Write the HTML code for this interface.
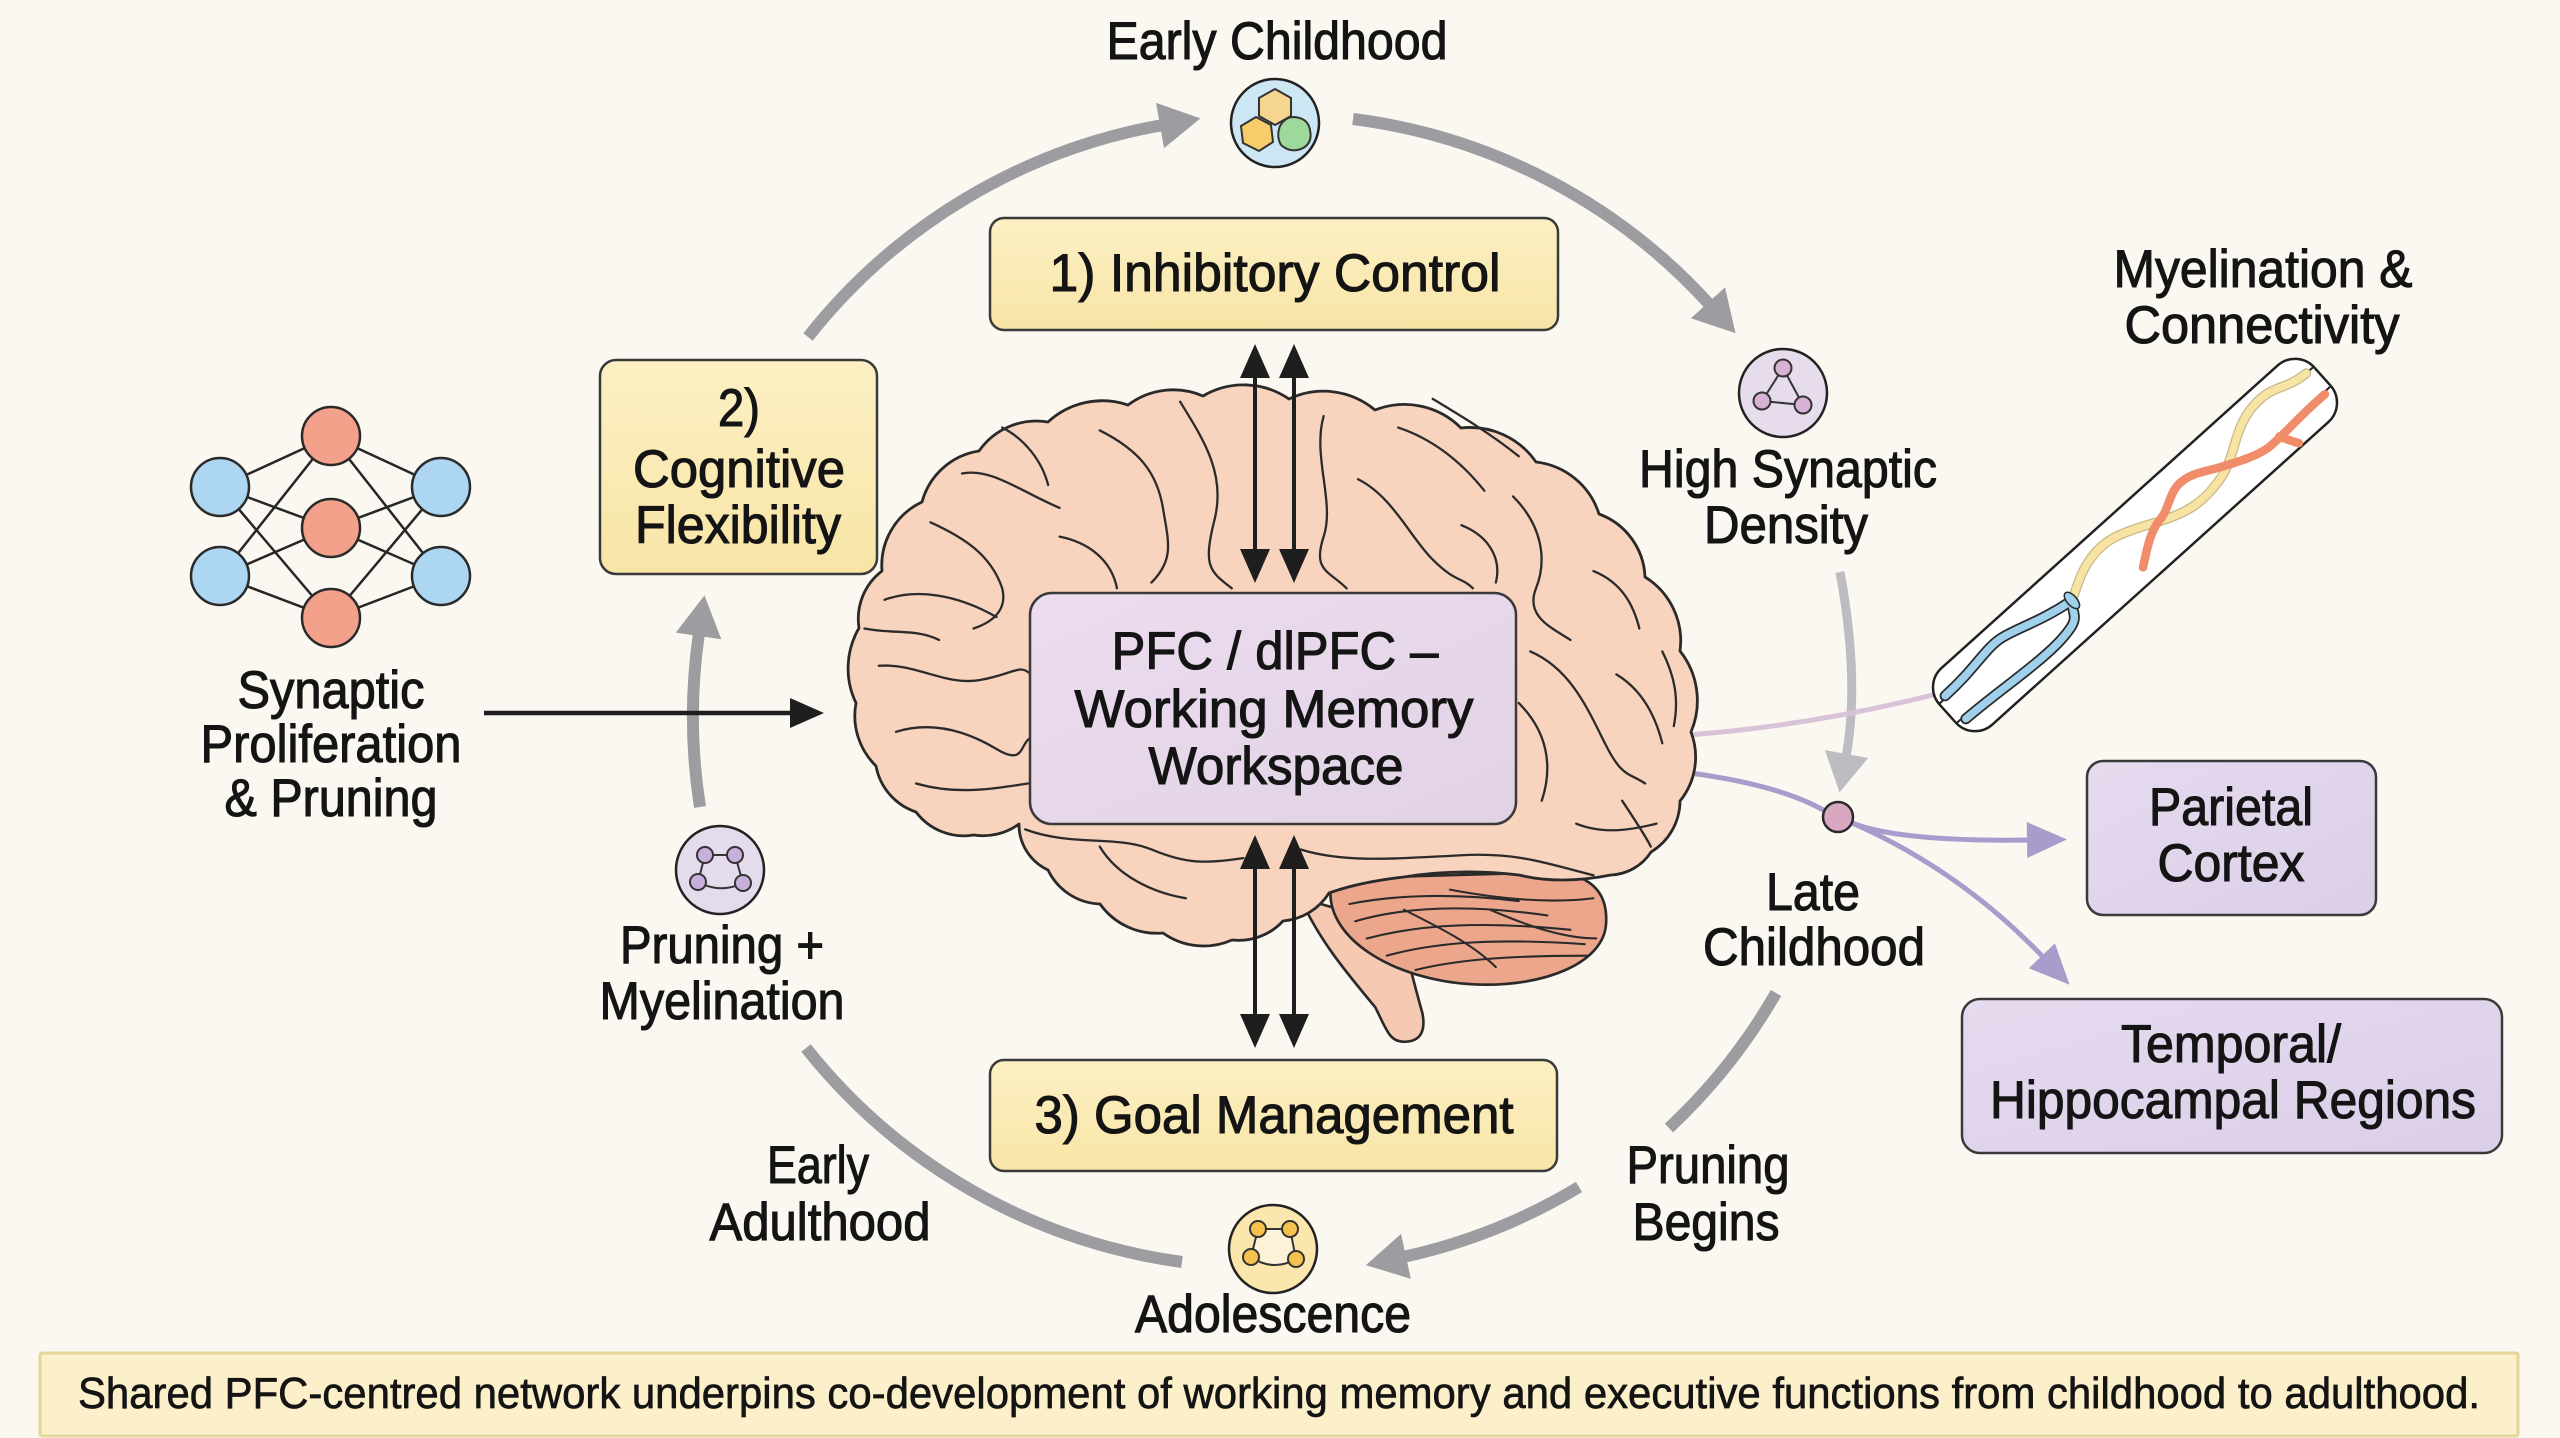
<!DOCTYPE html>
<html>
<head>
<meta charset="utf-8">
<style>
html,body{margin:0;padding:0;background:#faf8f0;}
svg{display:block;}
</style>
</head>
<body>
<svg width="2560" height="1438" viewBox="0 0 2560 1438" xmlns="http://www.w3.org/2000/svg">
<defs>
  <marker id="hg" markerUnits="userSpaceOnUse" markerWidth="50" markerHeight="60" viewBox="-5 -30 50 60" refX="0" refY="0" orient="auto">
    <path d="M-3,-23 L38,0 L-3,23 Z" fill="#9c9ca1"/>
  </marker>
  <marker id="hl" markerUnits="userSpaceOnUse" markerWidth="50" markerHeight="60" viewBox="-5 -30 50 60" refX="0" refY="0" orient="auto">
    <path d="M-3,-22 L36,0 L-3,22 Z" fill="#bdbdc1"/>
  </marker>
  <marker id="hp" markerUnits="userSpaceOnUse" markerWidth="50" markerHeight="50" viewBox="-5 -25 50 50" refX="0" refY="0" orient="auto">
    <path d="M-3,-18 L37,0 L-3,18 Z" fill="#a99bcb"/>
  </marker>
  <marker id="hb" markerUnits="userSpaceOnUse" markerWidth="40" markerHeight="40" viewBox="-5 -20 40 40" refX="0" refY="0" orient="auto-start-reverse">
    <path d="M-2,-15 L32,0 L-2,15 Z" fill="#1e1e1e"/>
  </marker>
  <linearGradient id="gy" x1="0" y1="0" x2="0" y2="1">
    <stop offset="0" stop-color="#fcf0c4"/>
    <stop offset="1" stop-color="#f8e5a6"/>
  </linearGradient>
  <linearGradient id="gp" x1="0" y1="0" x2="1" y2="1">
    <stop offset="0" stop-color="#ecdcee"/>
    <stop offset="1" stop-color="#e2d2e6"/>
  </linearGradient>
  <linearGradient id="gl" x1="0" y1="0" x2="1" y2="1">
    <stop offset="0" stop-color="#e6daef"/>
    <stop offset="1" stop-color="#dbcfe8"/>
  </linearGradient>
</defs>

<rect x="0" y="0" width="2560" height="1438" fill="#faf8f0"/>

<!-- gray cycle arcs -->
<g fill="none" stroke="#9c9ca1" stroke-width="12">
  <path d="M 808 337 A 580 580 0 0 1 1163 125" marker-end="url(#hg)"/>
  <path d="M 1353 119 A 580 580 0 0 1 1710 305" marker-end="url(#hg)"/>
  <path d="M 1776 993 A 580 580 0 0 1 1669 1128"/>
  <path d="M 1579 1187 A 580 580 0 0 1 1403 1257" marker-end="url(#hg)"/>
  <path d="M 1182 1262 A 580 580 0 0 1 806 1048"/>
  <path d="M 700 807 A 580 580 0 0 1 699 633" marker-end="url(#hg)"/>
</g>
<path d="M 1840 572 Q 1860 680 1846 757" fill="none" stroke="#bdbdc1" stroke-width="9" marker-end="url(#hl)"/>

<!-- pink & purple connectors -->
<path d="M 1688 735 Q 1820 725 1952 690" fill="none" stroke="#d9c3d8" stroke-width="5"/>
<path d="M 1690 773 Q 1780 785 1825 811" fill="none" stroke="#a99bcb" stroke-width="5"/>
<path d="M 1852 823 Q 1900 842 2030 840" fill="none" stroke="#a99bcb" stroke-width="5" marker-end="url(#hp)"/>
<path d="M 1852 823 Q 1960 870 2044 958" fill="none" stroke="#a99bcb" stroke-width="5" marker-end="url(#hp)"/>
<circle cx="1838" cy="817" r="15" fill="#d9a7c0" stroke="#2a2a2a" stroke-width="2.5"/>

<!-- neural network icon -->
<g stroke="#262626" stroke-width="2.5">
  <line x1="220" y1="487" x2="331" y2="436"/><line x1="220" y1="487" x2="331" y2="528"/><line x1="220" y1="487" x2="331" y2="618"/>
  <line x1="220" y1="576" x2="331" y2="436"/><line x1="220" y1="576" x2="331" y2="528"/><line x1="220" y1="576" x2="331" y2="618"/>
  <line x1="441" y1="487" x2="331" y2="436"/><line x1="441" y1="487" x2="331" y2="528"/><line x1="441" y1="487" x2="331" y2="618"/>
  <line x1="441" y1="576" x2="331" y2="436"/><line x1="441" y1="576" x2="331" y2="528"/><line x1="441" y1="576" x2="331" y2="618"/>
</g>
<g stroke="#2a2a2a" stroke-width="2.5">
  <circle cx="220" cy="487" r="29" fill="#acd6f1"/>
  <circle cx="220" cy="576" r="29" fill="#acd6f1"/>
  <circle cx="441" cy="487" r="29" fill="#acd6f1"/>
  <circle cx="441" cy="576" r="29" fill="#acd6f1"/>
  <circle cx="331" cy="436" r="29" fill="#f3a18b"/>
  <circle cx="331" cy="528" r="29" fill="#f3a18b"/>
  <circle cx="331" cy="618" r="29" fill="#f3a18b"/>
</g>

<!-- black arrow synaptic -> brain -->
<line x1="484" y1="713" x2="792" y2="713" stroke="#1e1e1e" stroke-width="4.5" marker-end="url(#hb)"/>

<!-- BRAIN -->
<g transform="translate(830,330) scale(0.5740)" stroke="#2a2a2a" stroke-width="4.6" stroke-linejoin="round">
  <path d="M 820 990 C 850 1060, 900 1120, 950 1180 C 970 1220, 975 1240, 1000 1240 C 1030 1240, 1038 1220, 1032 1190 C 1018 1140, 1005 1090, 995 1040 Z" fill="#f6c9b2"/>
  <path d="M 872 975 C 866 1060, 980 1132, 1120 1140 C 1250 1146, 1348 1100, 1352 1035 C 1356 975, 1320 945, 1250 945 L 900 955 Z" fill="#eba68c"/>
  <g fill="none" stroke-width="3.6" stroke-linecap="round">
    <path d="M 905 1000 C 980 985, 1080 980, 1200 995"/>
    <path d="M 915 1030 C 1000 1005, 1110 1000, 1250 1020"/>
    <path d="M 935 1060 C 1030 1035, 1140 1030, 1290 1045"/>
    <path d="M 970 1090 C 1060 1065, 1170 1060, 1315 1070"/>
    <path d="M 1020 1115 C 1100 1095, 1200 1090, 1320 1090"/>
    <path d="M 1080 975 C 1160 990, 1250 1000, 1330 990"/>
    <path d="M 1150 1010 C 1220 1040, 1280 1060, 1335 1060"/>
    <path d="M 1000 1010 C 1060 1040, 1120 1070, 1160 1110"/>
  </g>
</g>
<path d="M 1019 824 A 60 60 0 0 1 974 835 A 60 60 0 0 1 916 812 A 60 60 0 0 1 876 766 A 70 70 0 0 1 856 703 A 80 80 0 0 1 859 628 A 60 60 0 0 1 882 571 A 70 70 0 0 1 922 502 A 70 70 0 0 1 979 451 A 70 70 0 0 1 1048 422 A 80 80 0 0 1 1128 405 A 75 75 0 0 1 1203 396 A 80 80 0 0 1 1289 399 A 80 80 0 0 1 1375 410 A 80 80 0 0 1 1461 428 A 80 80 0 0 1 1536 462 A 75 75 0 0 1 1599 514 A 70 70 0 0 1 1645 577 A 75 75 0 0 1 1680 651 A 80 80 0 0 1 1691 732 A 70 70 0 0 1 1680 801 A 60 60 0 0 1 1651 852 A 50 50 0 0 1 1611 875 Q 1560 885 1519 875 Q 1460 868 1404 877 Q 1360 882 1329 893 A 60 60 0 0 1 1283 921 A 60 60 0 0 1 1232 940 A 70 70 0 0 1 1163 933 A 70 70 0 0 1 1100 904 A 60 60 0 0 1 1048 870 A 50 50 0 0 1 1019 824 Z" fill="#f8d3bd" stroke="#2a2a2a" stroke-width="2.8" stroke-linejoin="round"/>
<g transform="translate(830,330) scale(0.5740)" fill="none" stroke="#2b2b2b" stroke-width="4" stroke-linecap="round">
  <path d="M 230 250 C 280 240, 330 280, 400 310"/>
  <path d="M 175 335 C 230 360, 280 390, 300 450 C 310 490, 280 510, 250 520"/>
  <path d="M 95 470 C 150 450, 220 460, 290 500"/>
  <path d="M 85 585 C 150 580, 200 620, 260 610 S 330 580, 350 600"/>
  <path d="M 115 700 C 180 680, 240 700, 290 730 S 330 720, 350 710"/>
  <path d="M 150 790 C 220 810, 280 800, 345 790"/>
  <path d="M 470 175 C 540 210, 570 250, 580 310 S 600 400, 560 440"/>
  <path d="M 610 125 C 650 190, 690 250, 670 330 S 660 420, 700 450"/>
  <path d="M 400 360 C 450 370, 490 400, 500 450"/>
  <path d="M 860 150 C 840 220, 880 300, 860 360 S 870 420, 900 450"/>
  <path d="M 920 260 C 980 290, 1010 360, 1050 400 S 1100 430, 1120 450"/>
  <path d="M 990 170 C 1050 190, 1100 230, 1140 280"/>
  <path d="M 1190 290 C 1240 340, 1250 400, 1230 450 S 1260 520, 1290 540"/>
  <path d="M 1220 560 C 1290 590, 1320 660, 1350 720 S 1390 770, 1420 790"/>
  <path d="M 1200 650 C 1250 700, 1260 760, 1240 820"/>
  <path d="M 1330 420 C 1380 440, 1400 480, 1410 520"/>
  <path d="M 1370 600 C 1420 630, 1440 680, 1450 720"/>
  <path d="M 1380 820 C 1400 850, 1420 880, 1430 900"/>
  <path d="M 340 870 C 420 900, 500 880, 560 905 S 650 930, 720 920"/>
  <path d="M 820 905 C 900 930, 1000 920, 1100 915 S 1250 930, 1330 950"/>
  <path d="M 470 900 C 500 950, 560 980, 620 990"/>
  <path d="M 1050 120 C 1100 150, 1150 180, 1200 220"/>
  <path d="M 300 170 C 340 190, 370 230, 380 270"/>
  <path d="M 60 520 C 110 530, 150 520, 190 540"/>
  <path d="M 1100 340 C 1150 360, 1170 400, 1160 440"/>
  <path d="M 1450 560 C 1470 600, 1480 640, 1470 690"/>
  <path d="M 1300 860 C 1350 880, 1400 870, 1440 860"/>
</g>

<!-- PFC box -->
<rect x="1030" y="593" width="486" height="231" rx="22" fill="url(#gp)" stroke="#3a3a3a" stroke-width="2.5"/>

<!-- double arrows -->
<g stroke="#1e1e1e" stroke-width="4">
  <line x1="1255" y1="376" x2="1255" y2="551" marker-start="url(#hb)" marker-end="url(#hb)"/>
  <line x1="1294" y1="376" x2="1294" y2="551" marker-start="url(#hb)" marker-end="url(#hb)"/>
  <line x1="1255" y1="867" x2="1255" y2="1016" marker-start="url(#hb)" marker-end="url(#hb)"/>
  <line x1="1294" y1="867" x2="1294" y2="1016" marker-start="url(#hb)" marker-end="url(#hb)"/>
</g>

<!-- yellow boxes -->
<g stroke="#3a3a3a" stroke-width="2.5">
  <rect x="990" y="218" width="568" height="112" rx="14" fill="url(#gy)"/>
  <rect x="600" y="360" width="277" height="214" rx="16" fill="url(#gy)"/>
  <rect x="990" y="1060" width="567" height="111" rx="14" fill="url(#gy)"/>
</g>
<g stroke="#3a3a3a" stroke-width="2.5">
  <rect x="2087" y="761" width="289" height="154" rx="16" fill="url(#gl)"/>
  <rect x="1962" y="999" width="540" height="154" rx="18" fill="url(#gl)"/>
</g>

<!-- caption box -->
<rect x="40" y="1353" width="2478" height="83" rx="2" fill="#fbf0c9" stroke="#e6d69c" stroke-width="3"/>

<!-- Early Childhood icon -->
<circle cx="1275" cy="123" r="44" fill="#cde6f4" stroke="#222" stroke-width="2.5"/>
<g stroke="#333" stroke-width="2">
  <polygon points="1275,89 1291,98 1291,116 1275,125 1259,116 1259,98" fill="#f6d58f"/>
  <polygon points="1256,117 1271,125 1273,142 1259,151 1243,143 1241,126" fill="#f7cd6c"/>
  <path d="M 1294 117 Q 1308 118 1310 130 Q 1313 144 1301 149 Q 1290 153 1281 145 Q 1276 136 1280 126 Q 1285 117 1294 117 Z" fill="#9fd89b"/>
</g>

<!-- High Synaptic icon -->
<circle cx="1783" cy="393" r="44" fill="#e6dcec" stroke="#222" stroke-width="2.5"/>
<g stroke="#333" stroke-width="2">
  <polygon points="1783,368 1762,401 1803,405" fill="none"/>
  <circle cx="1783" cy="368" r="8.5" fill="#d8b2d5"/>
  <circle cx="1762" cy="401" r="8.5" fill="#d8b2d5"/>
  <circle cx="1803" cy="405" r="8.5" fill="#d8b2d5"/>
</g>

<!-- Pruning icon -->
<circle cx="720" cy="870" r="44" fill="#e4dbed" stroke="#222" stroke-width="2.5"/>
<g stroke="#333" stroke-width="2" fill="none">
  <path d="M 705 855 L 735 855 M 705 855 L 698 882 M 735 855 L 743 883 M 698 882 Q 720 894 743 883"/>
  <circle cx="705" cy="855" r="8" fill="#c8b0dc"/>
  <circle cx="735" cy="855" r="8" fill="#c8b0dc"/>
  <circle cx="698" cy="882" r="8" fill="#c8b0dc"/>
  <circle cx="743" cy="883" r="8" fill="#c8b0dc"/>
</g>

<!-- Adolescence icon -->
<circle cx="1273" cy="1249" r="44" fill="#fbe6ad" stroke="#222" stroke-width="2.5"/>
<g stroke="#333" stroke-width="2">
  <path d="M 1258 1229 L 1290 1229 L 1296 1259 Q 1273 1272 1251 1257 Z" fill="#fdf1d8"/>
  <circle cx="1258" cy="1229" r="8" fill="#f5c24e"/>
  <circle cx="1290" cy="1229" r="8" fill="#f5c24e"/>
  <circle cx="1251" cy="1257" r="8" fill="#f5c24e"/>
  <circle cx="1296" cy="1259" r="8" fill="#f5c24e"/>
</g>

<!-- Myelin fiber -->
<g transform="translate(2135,545) rotate(-42)">
  <rect x="-252" y="-38" width="504" height="76" rx="26" fill="#ffffff" stroke="#222" stroke-width="2.5"/>
  <g fill="none" stroke="#222" stroke-width="2">
    <path d="M -252 -13 L -228 -13 M -252 13 L -228 13 M 252 -13 L 228 -13 M 252 13 L 228 13"/>
  </g>
  <g fill="none" stroke-linecap="round">
    <path d="M -242 -15 C -200 -15, -180 -24, -160 -20 S -120 -6, -84 -1" stroke="#2a2a2a" stroke-width="11"/>
    <path d="M -242 16 C -200 17, -150 24, -119 21 S -95 12, -84 -1" stroke="#2a2a2a" stroke-width="11"/>
    <path d="M -242 -15 C -200 -15, -180 -24, -160 -20 S -120 -6, -84 -1" stroke="#9fd0ec" stroke-width="7.5"/>
    <path d="M -242 16 C -200 17, -150 24, -119 21 S -95 12, -84 -1" stroke="#9fd0ec" stroke-width="7.5"/>
    <path d="M -84 -1 C -70 -8, -60 -16, -40 -20 S -5 -20, 28 -4 S 80 14, 107 8 S 150 -20, 180 -24 S 215 -14, 242 -13" stroke="#c9b887" stroke-width="10"/>
    <path d="M -84 -1 C -70 -8, -60 -16, -40 -20 S -5 -20, 28 -4 S 80 14, 107 8 S 150 -20, 180 -24 S 215 -14, 242 -13" stroke="#f7e4a4" stroke-width="7.5"/>
    <path d="M -9 22 C 5 12, 20 0, 35 -2 S 60 -16, 75 -16 S 100 -8, 115 -1 S 150 16, 166 17 S 210 14, 242 15" stroke="#f08c6a" stroke-width="8.5"/>
    <path d="M 180 16 Q 186 28 190 34" stroke="#f08c6a" stroke-width="8.5"/>
  </g>
  <ellipse cx="-84" cy="-1" rx="5" ry="10" fill="#9fd0ec" stroke="#2a2a2a" stroke-width="1.5"/>
</g>

<!-- TEXT -->
<g font-family="'Liberation Sans', Arial, sans-serif" font-size="53" fill="#141414" stroke="#141414" stroke-width="1.1" text-anchor="middle">
  <text x="1277" y="59" textLength="341" lengthAdjust="spacingAndGlyphs">Early Childhood</text>
  <text x="1275" y="291" textLength="451" lengthAdjust="spacingAndGlyphs">1) Inhibitory Control</text>
  <text x="739" y="426" textLength="42" lengthAdjust="spacingAndGlyphs">2)</text>
  <text x="739" y="487" textLength="212" lengthAdjust="spacingAndGlyphs">Cognitive</text>
  <text x="738" y="543" textLength="206" lengthAdjust="spacingAndGlyphs">Flexibility</text>
  <text x="331" y="708" textLength="187" lengthAdjust="spacingAndGlyphs">Synaptic</text>
  <text x="331" y="762" textLength="261" lengthAdjust="spacingAndGlyphs">Proliferation</text>
  <text x="331" y="816" textLength="213" lengthAdjust="spacingAndGlyphs">&amp; Pruning</text>
  <text x="722" y="963" textLength="204" lengthAdjust="spacingAndGlyphs">Pruning +</text>
  <text x="722" y="1019" textLength="245" lengthAdjust="spacingAndGlyphs">Myelination</text>
  <text x="818" y="1183" textLength="102" lengthAdjust="spacingAndGlyphs">Early</text>
  <text x="820" y="1240" textLength="221" lengthAdjust="spacingAndGlyphs">Adulthood</text>
  <text x="1273" y="1332" textLength="276" lengthAdjust="spacingAndGlyphs">Adolescence</text>
  <text x="1708" y="1183" textLength="163" lengthAdjust="spacingAndGlyphs">Pruning</text>
  <text x="1706" y="1240" textLength="147" lengthAdjust="spacingAndGlyphs">Begins</text>
  <text x="1813" y="910" textLength="94" lengthAdjust="spacingAndGlyphs">Late</text>
  <text x="1814" y="965" textLength="222" lengthAdjust="spacingAndGlyphs">Childhood</text>
  <text x="1788" y="487" textLength="298" lengthAdjust="spacingAndGlyphs">High Synaptic</text>
  <text x="1786" y="543" textLength="164" lengthAdjust="spacingAndGlyphs">Density</text>
  <text x="2263" y="287" textLength="299" lengthAdjust="spacingAndGlyphs">Myelination &amp;</text>
  <text x="2262" y="343" textLength="275" lengthAdjust="spacingAndGlyphs">Connectivity</text>
  <text x="2231" y="825" textLength="164" lengthAdjust="spacingAndGlyphs">Parietal</text>
  <text x="2231" y="881" textLength="147" lengthAdjust="spacingAndGlyphs">Cortex</text>
  <text x="2231" y="1062" textLength="220" lengthAdjust="spacingAndGlyphs">Temporal/</text>
  <text x="2233" y="1118" textLength="486" lengthAdjust="spacingAndGlyphs">Hippocampal Regions</text>
  <text x="1275" y="669" textLength="327" lengthAdjust="spacingAndGlyphs">PFC / dlPFC –</text>
  <text x="1274" y="727" textLength="399" lengthAdjust="spacingAndGlyphs">Working Memory</text>
  <text x="1276" y="784" textLength="255" lengthAdjust="spacingAndGlyphs">Workspace</text>
  <text x="1274" y="1133" textLength="479" lengthAdjust="spacingAndGlyphs">3) Goal Management</text>
  <text x="1279" y="1408" font-size="44" stroke-width="0.7" textLength="2402" lengthAdjust="spacingAndGlyphs">Shared PFC-centred network underpins co-development of working memory and executive functions from childhood to adulthood.</text>
</g>
</svg>
</body>
</html>
